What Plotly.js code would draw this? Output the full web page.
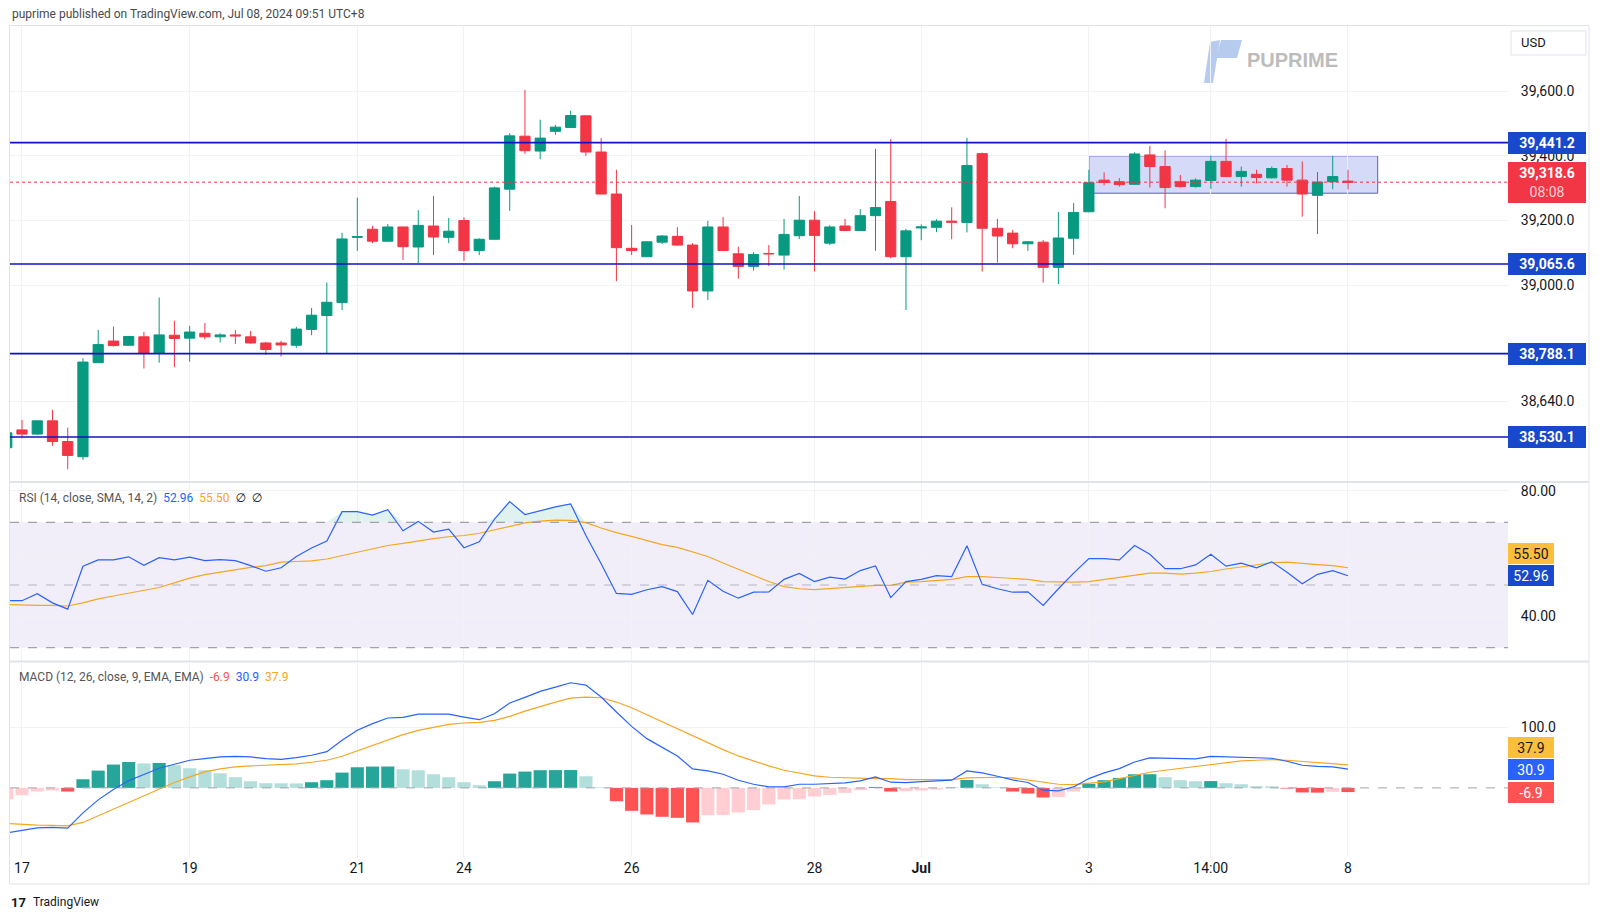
<!DOCTYPE html>
<html>
<head>
<meta charset="utf-8">
<title>US30 4H - RSI / MACD</title>
<script src="https://cdn.plot.ly/plotly-3.0.1.min.js"></script>
<style>
  html, body { margin: 0; padding: 0; background: #fff; }
  #chart { width: 1600px; height: 919px; }
</style>
</head>
<body>
<div id="chart"></div>
<script>
// 4h candles, bar -1 is the one cut off by the left edge
const opens  = [38497, 38552, 38539, 38580, 38516, 38469, 38760, 38827, 38814, 38840,
                38790, 38845, 38836, 38851, 38840, 38846, 38840, 38821, 38821, 38814,
                38863, 38906, 38946, 39148, 39173, 39136, 39180, 39118, 39183, 39148,
                39200, 39107, 39142, 39297, 39461, 39415, 39476, 39488, 39524, 39412,
                39282, 39114, 39088, 39133, 39151, 39124, 38982, 39180, 39097, 39058,
                39098, 39093, 39153, 39201, 39130, 39183, 39169, 39215, 39259, 39088,
                39177, 39179, 39198, 39194, 39407, 39176, 39161, 39128, 39133, 39055,
                39145, 39227, 39325, 39320, 39312, 39403, 39367, 39320, 39305, 39324,
                39383, 39336, 39343, 39332, 39361, 39325, 39278, 39320, 39322];
const highs  = [38552, 38583, 38581, 38614, 38559, 38774, 38861, 38872, 38843, 38855,
                38962, 38890, 38874, 38883, 38851, 38861, 38858, 38825, 38828, 38871,
                38929, 39008, 39162, 39271, 39183, 39189, 39181, 39232, 39276, 39208,
                39210, 39145, 39305, 39470, 39604, 39512, 39496, 39540, 39525, 39455,
                39357, 39186, 39136, 39155, 39179, 39130, 39199, 39211, 39119, 39102,
                39124, 39205, 39276, 39229, 39185, 39205, 39235, 39422, 39452, 39174,
                39188, 39204, 39241, 39456, 39410, 39205, 39171, 39136, 39140, 39226,
                39254, 39357, 39349, 39331, 39411, 39431, 39417, 39341, 39330, 39401,
                39453, 39367, 39357, 39367, 39372, 39383, 39350, 39400, 39357];
const lows   = [38488, 38526, 38536, 38503, 38430, 38459, 38760, 38810, 38813, 38742,
                38760, 38746, 38763, 38832, 38823, 38818, 38819, 38785, 38779, 38806,
                38845, 38789, 38923, 39106, 39130, 39136, 39078, 39068, 39093, 39130,
                39075, 39093, 39141, 39230, 39406, 39390, 39465, 39487, 39400, 39281,
                39012, 39093, 39087, 39127, 39122, 38930, 38954, 39106, 39020, 39045,
                39059, 39048, 39143, 39042, 39124, 39169, 39168, 39106, 39083, 38923,
                39139, 39164, 39142, 39163, 39042, 39070, 39114, 39106, 39008, 39003,
                39094, 39226, 39309, 39305, 39311, 39302, 39238, 39302, 39302, 39298,
                39336, 39305, 39315, 39330, 39305, 39212, 39158, 39297, 39296];
const closes = [38543, 38539, 38580, 38516, 38473, 38762, 38816, 38813, 38841, 38790,
                38846, 38835, 38855, 38840, 38846, 38843, 38821, 38801, 38815, 38864,
                38907, 38947, 39143, 39150, 39136, 39180, 39119, 39185, 39149, 39167,
                39107, 39142, 39301, 39462, 39416, 39455, 39489, 39525, 39412, 39282,
                39116, 39107, 39134, 39152, 39124, 38982, 39180, 39107, 39058, 39095,
                39097, 39157, 39201, 39154, 39180, 39169, 39215, 39240, 39088, 39168,
                39180, 39198, 39195, 39370, 39176, 39152, 39128, 39134, 39055, 39146,
                39225, 39317, 39318, 39311, 39406, 39367, 39302, 39305, 39325, 39383,
                39336, 39352, 39333, 39361, 39325, 39282, 39319, 39336, 39318.6];

const rsi   = [45.0, 45.0, 47.2, 44.3, 42.3, 56.0, 58.0, 58.0, 59.0, 56.3,
               58.7, 58.0, 58.9, 57.8, 58.1, 57.8, 56.2, 54.4, 55.5, 59.1,
               61.8, 64.0, 73.4, 73.4, 72.3, 74.0, 67.3, 70.3, 66.9, 67.8,
               61.9, 63.8, 71.0, 76.6, 72.5, 73.8, 74.9, 75.9, 65.8, 56.8,
               47.3, 47.0, 48.5, 49.5, 47.9, 40.6, 51.5, 48.0, 45.8, 47.7,
               47.8, 51.8, 53.7, 51.1, 52.5, 51.9, 54.6, 56.1, 46.0, 51.1,
               51.8, 53.0, 52.7, 62.5, 50.2, 48.8, 47.7, 47.8, 43.5, 48.8,
               53.8, 58.4, 58.4, 58.0, 62.6, 59.8, 55.2, 55.2, 56.4, 59.8,
               56.0, 57.0, 55.5, 57.4, 54.1, 50.4, 53.4, 54.6, 52.96];
const rsiMa = [43.8, 43.6, 43.5, 43.5, 43.3, 44.3, 45.6, 46.5, 47.4, 48.3,
               49.2, 50.7, 52.2, 53.3, 54.1, 54.8, 55.6, 56.2, 57.3, 57.5,
               57.7, 58.3, 59.4, 60.5, 61.6, 62.6, 63.3, 64.1, 64.8, 65.4,
               65.8, 66.5, 67.6, 68.8, 69.8, 70.4, 70.7, 70.6, 69.9, 68.2,
               66.7, 65.5, 64.1, 62.9, 62.0, 60.5, 59.1, 57.0, 55.0, 53.0,
               51.1, 49.5, 48.8, 48.5, 48.8, 49.1, 49.5, 49.9, 49.9, 50.9,
               51.1, 51.4, 51.8, 52.7, 52.7, 52.4, 52.0, 51.8, 51.1, 50.9,
               50.9, 51.1, 51.8, 52.5, 53.2, 53.8, 53.8, 53.5, 53.8, 54.3,
               55.1, 55.7, 56.4, 57.1, 57.3, 56.8, 56.5, 56.2, 55.50];

const macd   = [-73.8, -69.9, -65.6, -65.0, -66.1, -41.0, -19.7, -2.7, 12.0, 21.9,
                32.3, 38.8, 45.4, 48.1, 50.8, 51.9, 50.8, 48.1, 47.0, 49.7,
                53.6, 59.6, 78.1, 94.6, 105.5, 114.8, 115.9, 121.3, 121.9, 121.3,
                116.4, 112.0, 121.9, 139.4, 148.7, 158.5, 165.6, 172.7, 168.9, 149.2,
                124.6, 101.1, 80.9, 66.1, 52.5, 31.2, 27.9, 22.4, 12.6, 6.0,
                1.6, 1.6, 6.0, 6.0, 7.1, 8.2, 11.5, 18.1, 9.3, 8.8,
                10.4, 12.0, 12.6, 27.9, 24.6, 19.1, 13.1, 8.8, -3.8, -4.9,
                1.6, 15.3, 24.6, 31.7, 42.6, 49.2, 48.7, 47.6, 47.6, 51.9,
                50.8, 50.3, 48.7, 48.7, 43.7, 37.2, 35.5, 34.4, 30.9];
const signal = [-58.5, -60.1, -61.2, -61.7, -62.3, -56.8, -45.9, -35.0, -24.0, -13.1,
                -2.2, 8.8, 18.1, 26.2, 31.2, 34.4, 36.1, 37.2, 38.3, 39.4,
                42.1, 45.4, 51.9, 60.7, 70.0, 79.3, 87.4, 94.6, 100.0, 104.4,
                106.6, 107.7, 111.0, 117.5, 126.2, 133.9, 141.0, 147.6, 149.2, 148.1,
                141.0, 131.7, 120.2, 109.3, 97.3, 85.3, 73.8, 62.8, 52.5, 43.7,
                36.1, 28.9, 24.6, 19.7, 17.5, 16.4, 15.9, 15.3, 15.3, 13.7,
                13.7, 13.7, 13.7, 16.4, 17.5, 17.5, 16.4, 13.1, 8.8, 6.0,
                5.5, 7.1, 9.8, 15.3, 20.8, 25.7, 29.0, 32.3, 35.0, 38.3,
                41.5, 44.3, 45.4, 46.5, 45.4, 43.7, 41.5, 39.9, 37.9];
const hist   = [-18.6, -12.0, -6.0, -4.4, -6.0, 14.2, 28.4, 38.3, 42.6, 40.2,
                41.0, 37.2, 32.2, 29.0, 24.0, 17.5, 10.9, 7.7, 7.5, 7.3,
                9.3, 12.6, 25.1, 33.9, 35.0, 35.1, 30.6, 29.0, 22.4, 17.5,
                9.3, 4.4, 10.9, 23.5, 26.8, 29.1, 29.2, 29.3, 19.1, 1.1,
                -21.9, -37.7, -43.7, -47.5, -49.2, -56.8, -44.8, -44.6, -40.4, -36.6,
                -27.3, -19.1, -18.6, -14.2, -11.5, -8.2, -3.8, 1.6, -6.0, -5.5,
                -4.4, -2.7, 0.5, 13.1, 6.0, 1.1, -6.0, -9.3, -15.8, -14.8,
                -6.0, 6.6, 12.6, 16.4, 22.4, 22.5, 17.5, 12.6, 10.9, 11.2,
                7.7, 6.0, 2.7, 2.6, -1.1, -7.5, -7.8, -6.5, -6.9];

// horizontal levels drawn on the chart + the box around the last range
const levels = [39441.2, 39065.6, 38788.1, 38530.1];
const boxFrom = 70, boxTo = 88.95, boxLow = 39284.5, boxHigh = 39400;

const tickIdx    = [0, 11, 22, 29, 40, 52, 59, 70, 78, 87];
const tickLabels = ['17', '19', '21', '24', '26', '28', '<b>Jul</b>', '3', '14:00', '8'];
const priceTicks = [38640, 39000, 39200, 39400, 39600];
const rsiTicks   = [40, 60, 80];
const rsiTickText = ['40.00', '', '80.00'];   // 60.00 sits under the MA tag

const idx = opens.map((_, i) => i - 1);
const last = idx.length - 1;

// pixel -> paper helpers
const W = 1600, H = 919, ML = 10, MR = 92, MT = 26, MB = 61;
const PW = W - ML - MR, PH = H - MT - MB;
const px = x => (x - ML) / PW;
const py = y => (H - MB - y) / PH;

const FONT = '"Trebuchet MS", Roboto, "DejaVu Sans", sans-serif';
const UP = '#089981', DOWN = '#f23645';
const BLUE = '#2962ff', ORANGE = '#f5a623', LINEBLUE = '#1212c2', TAGBLUE = '#1848cc';

const fmt = v => v.toLocaleString('en-US', {minimumFractionDigits: 1, maximumFractionDigits: 1});

// histogram colours like TradingView: compare with previous bar
const histColors = hist.map((v, i) => {
    const prev = i > 0 ? hist[i - 1] : v;
    if (v >= 0) return v > prev ? '#26a69a' : '#b2dfdb';
    return v < prev ? '#ff5252' : '#ffcdd2';
});

const traces = [
    {
        type: 'candlestick', x: idx, open: opens, high: highs, low: lows, close: closes,
        xaxis: 'x', yaxis: 'y', whiskerwidth: 0,
        increasing: {line: {color: UP, width: 1}, fillcolor: UP},
        decreasing: {line: {color: DOWN, width: 1}, fillcolor: DOWN},
        hoverinfo: 'skip'
    },
    {   // base for the overbought fill
        x: idx, y: rsi.map(() => 70), xaxis: 'x2', yaxis: 'y2', mode: 'lines',
        line: {width: 0, color: 'rgba(0,0,0,0)'}, hoverinfo: 'skip'
    },
    {
        x: idx, y: rsi.map(v => Math.max(v, 70)), xaxis: 'x2', yaxis: 'y2', mode: 'lines',
        line: {width: 0, color: 'rgba(0,0,0,0)'}, fill: 'tonexty', fillcolor: 'rgba(8,153,129,0.13)', hoverinfo: 'skip'
    },
    {x: idx, y: rsiMa, xaxis: 'x2', yaxis: 'y2', mode: 'lines', line: {color: ORANGE, width: 1.2}},
    {x: idx, y: rsi, xaxis: 'x2', yaxis: 'y2', mode: 'lines', line: {color: BLUE, width: 1.2}},
    {type: 'bar', x: idx, y: hist, xaxis: 'x3', yaxis: 'y3', width: 0.86, marker: {color: histColors}},
    {x: idx, y: signal, xaxis: 'x3', yaxis: 'y3', mode: 'lines', line: {color: ORANGE, width: 1.2}},
    {x: idx, y: macd, xaxis: 'x3', yaxis: 'y3', mode: 'lines', line: {color: BLUE, width: 1.2}}
];

const GRID = '#f0f2f5';
const xBase = {
    range: [-0.787, 97.5], tickmode: 'array', tickvals: tickIdx, ticktext: tickLabels,
    showgrid: true, gridcolor: GRID, zeroline: false, showline: false, ticks: '',
    showticklabels: false, fixedrange: true
};
const yBase = {
    side: 'right', showgrid: true, gridcolor: GRID, zeroline: false, showline: false,
    ticks: 'outside', ticklen: 9, tickcolor: 'rgba(0,0,0,0)', tickmode: 'array',
    tickfont: {size: 14, color: '#131722'}, fixedrange: true
};

const shapes = [];
// RSI band
shapes.push({type: 'rect', xref: 'x2 domain', yref: 'y2', x0: 0, x1: 1, y0: 30, y1: 70,
    fillcolor: 'rgba(126,87,194,0.1)', line: {width: 0}, layer: 'below'});
[70, 30].forEach(v => shapes.push({type: 'line', xref: 'x2 domain', yref: 'y2', x0: 0, x1: 1, y0: v, y1: v,
    line: {color: '#8a8d96', width: 1, dash: 'dash'}}));
shapes.push({type: 'line', xref: 'x2 domain', yref: 'y2', x0: 0, x1: 1, y0: 50, y1: 50,
    line: {color: 'rgba(120,123,134,0.5)', width: 1, dash: 'dash'}});
// MACD zero line
shapes.push({type: 'line', xref: 'x3 domain', yref: 'y3', x0: 0, x1: 1, y0: 0, y1: 0,
    line: {color: '#a3a6af', width: 1, dash: 'dash'}});
// range box
shapes.push({type: 'rect', xref: 'x', yref: 'y', x0: boxFrom, x1: boxTo, y0: boxLow, y1: boxHigh,
    fillcolor: 'rgba(41,72,220,0.2)', line: {color: '#5a5fc4', width: 1}, layer: 'below'});
// support / resistance levels
levels.forEach(v => shapes.push({type: 'line', xref: 'x domain', yref: 'y', x0: 0, x1: 1, y0: v, y1: v,
    line: {color: LINEBLUE, width: 1.6}}));
// last price
shapes.push({type: 'line', xref: 'x domain', yref: 'y', x0: 0, x1: 1, y0: closes[last], y1: closes[last],
    line: {color: DOWN, width: 1, dash: 'dot'}});
// pane separators and frame
[482, 661.5].forEach(y => shapes.push({type: 'line', xref: 'paper', yref: 'paper',
    x0: px(9.5), x1: px(1589), y0: py(y), y1: py(y), line: {color: '#e0e3eb', width: 2}}));
shapes.push({type: 'rect', xref: 'paper', yref: 'paper', x0: px(9.5), x1: px(1589), y0: py(884), y1: py(25.5),
    line: {color: '#e0e3eb', width: 1}});
// USD box
shapes.push({type: 'rect', xref: 'paper', yref: 'paper', x0: px(1511), x1: px(1586), y0: py(55), y1: py(31),
    line: {color: '#e0e3eb', width: 1}, fillcolor: '#ffffff'});
// watermark logo
const poly = pts => 'M' + pts.map(p => px(p[0]) + ',' + py(p[1])).join('L') + 'Z';
shapes.push({type: 'path', xref: 'paper', yref: 'paper', path: poly([[1204, 83], [1213, 83], [1220, 40], [1210, 42]]),
    fillcolor: '#b7cbef', line: {width: 0}, layer: 'below'});
shapes.push({type: 'path', xref: 'paper', yref: 'paper', path: poly([[1221, 40], [1242, 40], [1237, 58], [1216, 58]]),
    fillcolor: '#b7cbef', line: {width: 0}, layer: 'below'});

function tag(yref, y, text, bg, fg, w, h, shift) {
    return {
        xref: 'paper', x: 1, xanchor: 'left', yref: yref, y: y, yanchor: 'middle', yshift: shift || 0,
        text: text, showarrow: false, bgcolor: bg, bordercolor: bg, borderwidth: 1, borderpad: 2,
        width: w, height: h, align: 'center', font: {family: FONT, size: 14, color: fg}
    };
}

const annotations = [];
levels.forEach(v => annotations.push(tag('y', v, '<b>' + fmt(v) + '</b>', TAGBLUE, '#ffffff', 72, 16)));
annotations.push(tag('y', closes[last], '<b>' + fmt(closes[last]) + '</b><br><span style="color:#ffd3d8">08:08</span>',
    DOWN, '#ffffff', 72, 35));
annotations.push(tag('y2', rsiMa[last], rsiMa[last].toFixed(2), '#fbbf3b', '#131722', 40, 15, 14));
annotations.push(tag('y2', rsi[last], rsi[last].toFixed(2), TAGBLUE, '#ffffff', 40, 15));
annotations.push(tag('y3', signal[last], signal[last].toFixed(1), '#fbbf3b', '#131722', 40, 15, 17));
annotations.push(tag('y3', macd[last], macd[last].toFixed(1), BLUE, '#ffffff', 40, 15));
annotations.push(tag('y3', hist[last], hist[last].toFixed(1), '#ff5252', '#ffffff', 40, 15));

const note = (x, y, text, size, color, extra) => Object.assign({
    xref: 'paper', yref: 'paper', x: px(x), y: py(y), xanchor: 'left', yanchor: 'middle',
    text: text, showarrow: false, font: {family: FONT, size: size, color: color}
}, extra || {});

annotations.push(note(10, 14, 'puprime published on TradingView.com, Jul 08, 2024 09:51 UTC+8', 12, '#4a4a4a'));
annotations.push(note(1519, 43, 'USD', 13, '#131722'));
annotations.push(note(1245, 60, '<b>PUPRIME</b>', 20, '#b9b9b9', {font: {family: '"Liberation Sans", Arial, sans-serif', size: 20, color: '#bcbcbc'}}));
annotations.push(note(17, 498,
    '<span style="color:#555">RSI (14, close, SMA, 14, 2)</span>  ' +
    '<span style="color:' + BLUE + '">' + rsi[last].toFixed(2) + '</span>  ' +
    '<span style="color:' + ORANGE + '">' + rsiMa[last].toFixed(2) + '</span>  ' +
    '<span style="color:#131722">\u2205  \u2205</span>', 12, '#555'));
annotations.push(note(17, 677,
    '<span style="color:#555">MACD (12, 26, close, 9, EMA, EMA)</span>  ' +
    '<span style="color:#ff5252">' + hist[last].toFixed(1) + '</span>  ' +
    '<span style="color:' + BLUE + '">' + macd[last].toFixed(1) + '</span>  ' +
    '<span style="color:' + ORANGE + '">' + signal[last].toFixed(1) + '</span>', 12, '#555'));
annotations.push(note(9, 902, '<b>17</b>', 13, '#131722'));
annotations.push(note(31, 902, 'TradingView', 12, '#131722'));

const layout = {
    width: W, height: H,
    margin: {l: ML, r: MR, t: MT, b: MB},
    paper_bgcolor: '#ffffff', plot_bgcolor: '#ffffff',
    font: {family: FONT, size: 13, color: '#131722'},
    showlegend: false, hovermode: false,
    boxgap: 0.33, boxgroupgap: 0,
    xaxis: Object.assign({}, xBase, {anchor: 'y', domain: [0, 1], rangeslider: {visible: false}}),
    xaxis2: Object.assign({}, xBase, {anchor: 'y2', domain: [0, 1], matches: 'x'}),
    xaxis3: Object.assign({}, xBase, {anchor: 'y3', domain: [0, 1], matches: 'x', showticklabels: true,
        tickfont: {size: 14, color: '#131722'}}),
    yaxis: Object.assign({}, yBase, {anchor: 'x', domain: [py(481.6), 1], range: [38392, 39802],
        tickvals: priceTicks, tickformat: ',.1f'}),
    yaxis2: Object.assign({}, yBase, {anchor: 'x2', domain: [py(661.5), py(482.5)], range: [25.6, 82.7],
        tickvals: rsiTicks, ticktext: rsiTickText}),
    yaxis3: Object.assign({}, yBase, {anchor: 'x3', domain: [0, py(662.5)], range: [-115.2, 206],
        tickvals: [100], tickformat: '.1f'}),
    shapes: shapes,
    annotations: annotations
};

Plotly.newPlot('chart', traces, layout, {staticPlot: true, displayModeBar: false});
</script>
</body>
</html>
